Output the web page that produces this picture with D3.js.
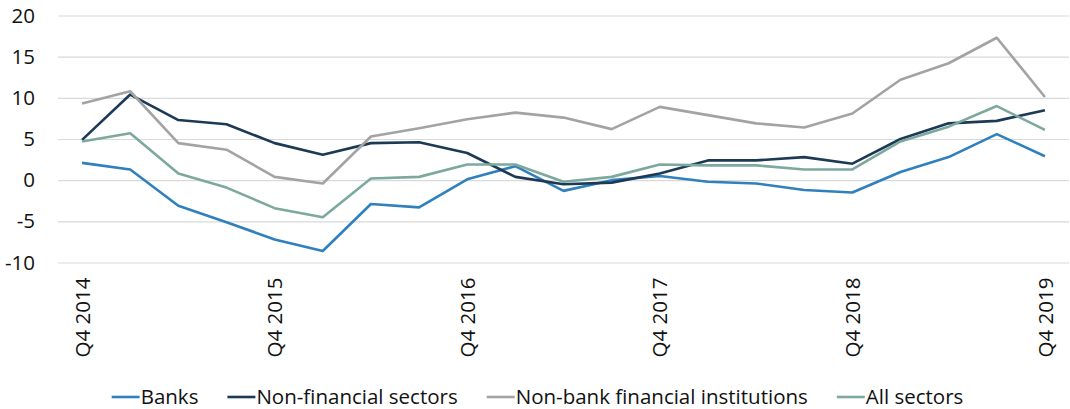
<!DOCTYPE html>
<html>
<head>
<meta charset="utf-8">
<script src="https://cdn.jsdelivr.net/npm/d3@7"></script>
<style>
  html, body { margin: 0; padding: 0; background: #fff; }
  svg { display: block; font-family: "Open Sans", sans-serif; }
</style>
</head>
<body>
<svg id="chart" width="1070" height="409"></svg>
<script>
const quarters = ["Q4 2014","Q1 2015","Q2 2015","Q3 2015","Q4 2015","Q1 2016","Q2 2016","Q3 2016","Q4 2016","Q1 2017","Q2 2017","Q3 2017","Q4 2017","Q1 2018","Q2 2018","Q3 2018","Q4 2018","Q1 2019","Q2 2019","Q3 2019","Q4 2019"];
const tickLabels = ["Q4 2014","Q4 2015","Q4 2016","Q4 2017","Q4 2018","Q4 2019"];
const yTicks = [-10, -5, 0, 5, 10, 15, 20];

const banks        = [2.1, 1.3, -3.1, -5.1, -7.2, -8.6, -2.9, -3.3, 0.1, 1.7, -1.3, 0.0, 0.5, -0.2, -0.4, -1.2, -1.5, 1.0, 2.8, 5.6, 2.9];
const nonFinancial = [4.9, 10.4, 7.3, 6.8, 4.5, 3.1, 4.5, 4.6, 3.3, 0.4, -0.5, -0.3, 0.8, 2.4, 2.4, 2.8, 2.0, 5.0, 6.9, 7.2, 8.5];
const nonBank      = [9.3, 10.8, 4.5, 3.7, 0.4, -0.4, 5.3, 6.3, 7.4, 8.2, 7.6, 6.2, 8.9, 7.9, 6.9, 6.4, 8.1, 12.2, 14.2, 17.3, 10.1];
const allSectors   = [4.7, 5.7, 0.8, -0.9, -3.4, -4.5, 0.2, 0.4, 1.9, 1.9, -0.2, 0.4, 1.9, 1.8, 1.8, 1.3, 1.3, 4.7, 6.5, 9.0, 6.1];

const seriesNames = ["Banks", "Non-financial sectors", "Non-bank financial institutions", "All sectors"];
const seriesColors = ["#2f80bd", "#1c3a56", "#a3a3a3", "#7da89e"];
const seriesValues = [banks, nonFinancial, nonBank, allSectors];

const svg = d3.select("#chart");
const plotLeft = 58, plotRight = 1069, plotTop = 15.5, plotBottom = 262.5;
const fontSize = 20.5;

const x = d3.scalePoint().domain(quarters).range([plotLeft, plotRight]).padding(0.5);
const y = d3.scaleLinear().domain([-10, 20]).range([plotBottom, plotTop]);

// gridlines
svg.append("g")
  .attr("transform", `translate(${plotLeft},0)`)
  .call(d3.axisLeft(y).tickValues(yTicks).tickSize(-(plotRight - plotLeft)).tickFormat(""))
  .call(g => g.select(".domain").remove())
  .call(g => g.selectAll("line").attr("stroke", "#d9d9d9").attr("stroke-width", 1.2));

// y labels
svg.append("g")
  .attr("transform", `translate(${plotLeft},0)`)
  .call(d3.axisLeft(y).tickValues(yTicks).tickSize(0).tickPadding(23).tickFormat(d => String(d)))
  .call(g => g.select(".domain").remove())
  .call(g => g.selectAll("text").attr("font-size", fontSize).attr("fill", "#111").attr("font-family", "Open Sans, sans-serif"));

// x labels
svg.append("g")
  .attr("transform", `translate(0,${plotBottom})`)
  .call(d3.axisBottom(x).tickValues(tickLabels).tickSize(0).tickFormat(d => d))
  .call(g => g.select(".domain").remove())
  .call(g => g.selectAll("text")
    .attr("font-size", fontSize).attr("fill", "#111").attr("font-family", "Open Sans, sans-serif")
    .attr("text-anchor", "end")
    .attr("transform", "rotate(-90)")
    .attr("x", -15).attr("y", 0).attr("dy", "0.35em"));

// lines
const line = d3.line().x((d, i) => x(quarters[i])).y(d => y(d));
seriesValues.forEach((vals, k) => {
  svg.append("path")
    .datum(vals)
    .attr("d", line)
    .attr("fill", "none")
    .attr("stroke", seriesColors[k])
    .attr("stroke-width", 2.6)
    .attr("stroke-linejoin", "round");
});

// legend
const legend = svg.append("g");
let cx = 0;
const legY = 397;
seriesNames.forEach((name, k) => {
  const g = legend.append("g").attr("transform", `translate(${cx},0)`);
  g.append("line").attr("x1", 0).attr("x2", 28).attr("y1", legY).attr("y2", legY)
    .attr("stroke", seriesColors[k]).attr("stroke-width", 2.6);
  const t = g.append("text").attr("x", 29).attr("y", legY).attr("dy", "0.35em")
    .attr("font-size", fontSize).attr("fill", "#111").text(name);
  cx += 29 + t.node().getComputedTextLength() + 29;
});
const totalW = cx - 29;
legend.attr("transform", `translate(${(113 + 962) / 2 - totalW / 2},0)`);
</script>
</body>
</html>
